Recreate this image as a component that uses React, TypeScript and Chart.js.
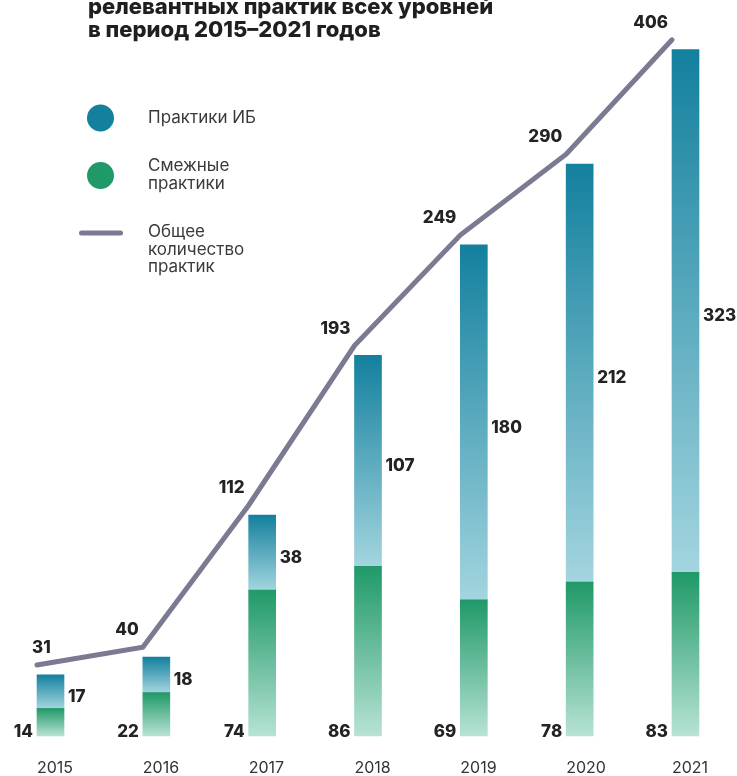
import React, { useEffect, useRef } from "react";
import { Chart, registerables, LinearScale } from "chart.js";

Chart.register(...registerables);

// ---- data ----
const years = ["2015", "2016", "2017", "2018", "2019", "2020", "2021"];
const ibPractices = [17, 18, 38, 107, 180, 212, 323];
const relatedPractices = [14, 22, 74, 86, 69, 78, 83];
const totalPractices = [31, 40, 112, 193, 249, 290, 406];

const titleLines = ["релевантных практик всех уровней", "в период 2015–2021 годов"];
const legendIb = ["Практики ИБ"];
const legendRelated = ["Смежные", "практики"];
const legendTotal = ["Общее", "количество", "практик"];

// ---- scale: linear, values above the knee drawn compressed (as in the original) ----
const KNEE = 290;
const SQUASH = 0.5;
const squash = (v: number) => (v > KNEE ? KNEE + (v - KNEE) * SQUASH : v);
const unsquash = (v: number) => (v > KNEE ? KNEE + (v - KNEE) / SQUASH : v);

class SquashedScale extends LinearScale {
  static id = "squashed";
  static defaults = LinearScale.defaults;
  getPixelForValue(value: any) {
    if (value === null || value === undefined) return NaN;
    return super.getPixelForValue(squash(value));
  }
  getValueForPixel(pixel: number) {
    return unsquash(super.getValueForPixel(pixel) as number);
  }
}
Chart.register(SquashedScale as any);

const FONT = "Inter, 'Open Sans', sans-serif";
const BLUE_TOP = "#13809e";
const BLUE_BOTTOM = "#a3d5df";
const GREEN_TOP = "#209968";
const GREEN_BOTTOM = "#b7e3d4";
const LINE_COLOR = "#7a7a93";

function segmentGradient(ctx: any, top: string, bottom: string, from: number[], to: number[]) {
  const chart = ctx.chart;
  const y = chart.scales.y;
  if (!chart.chartArea || !y) return top;
  const i = ctx.dataIndex;
  const yTop = y.getPixelForValue(to[i]);
  const yBot = y.getPixelForValue(from[i]);
  if (!isFinite(yTop) || !isFinite(yBot) || yTop === yBot) return top;
  const g = chart.ctx.createLinearGradient(0, yTop, 0, yBot);
  g.addColorStop(0, top);
  g.addColorStop(1, bottom);
  return g;
}

const decorPlugin = {
  id: "decor",
  afterDraw(chart: any) {
    const ctx = chart.ctx;
    ctx.save();
    // title (cut at top as in the reference)
    ctx.fillStyle = "#1f1f1f";
    ctx.font = `800 22px ${FONT}`;
    ctx.textAlign = "left";
    ctx.textBaseline = "alphabetic";
    ctx.fillText(titleLines[0], 88, 14);
    ctx.fillText(titleLines[1], 88, 37);

    // legend
    ctx.fillStyle = BLUE_TOP;
    ctx.beginPath();
    ctx.arc(100.5, 118, 13.5, 0, Math.PI * 2);
    ctx.fill();
    ctx.fillStyle = GREEN_TOP;
    ctx.beginPath();
    ctx.arc(100.5, 175.5, 13.5, 0, Math.PI * 2);
    ctx.fill();
    ctx.strokeStyle = LINE_COLOR;
    ctx.lineWidth = 5;
    ctx.lineCap = "round";
    ctx.beginPath();
    ctx.moveTo(81.5, 233);
    ctx.lineTo(120.5, 233);
    ctx.stroke();

    ctx.fillStyle = "#3a3a3a";
    ctx.font = `400 17px ${FONT}`;
    ctx.textBaseline = "middle";
    legendIb.forEach((t, k) => ctx.fillText(t, 148, 118 + k * 18));
    legendRelated.forEach((t, k) => ctx.fillText(t, 148, 166 + k * 18));
    legendTotal.forEach((t, k) => ctx.fillText(t, 148, 232 + k * 17.5));

    // value labels
    const green = chart.getDatasetMeta(1);
    const blue = chart.getDatasetMeta(2);
    const line = chart.getDatasetMeta(3);
    ctx.fillStyle = "#232323";
    ctx.font = `800 17px ${FONT}`;
    years.forEach((_, i) => {
      const gb = green.data[i];
      const bb = blue.data[i];
      const lp = line.data[i];
      const left = gb.x - gb.width / 2;
      const right = bb.x + bb.width / 2;
      // related (green) – left of bar, at its foot
      ctx.textAlign = "right";
      ctx.textBaseline = "alphabetic";
      ctx.fillText(String(relatedPractices[i]), left - 4, gb.base + 0.5);
      // IB (blue) – right of bar, at middle of its segment
      ctx.textAlign = "left";
      ctx.textBaseline = "middle";
      ctx.fillText(String(ibPractices[i]), right + 4, (bb.y + bb.base) / 2 + 5);
      // total – above line point
      ctx.textBaseline = "alphabetic";
      if (i === 0) {
        ctx.textAlign = "left";
        ctx.fillText(String(totalPractices[i]), lp.x - 5, lp.y - 12);
      } else {
        ctx.textAlign = "right";
        ctx.fillText(String(totalPractices[i]), lp.x - 4, lp.y - 12);
      }
    });
    ctx.restore();
  },
};

export default function App() {
  const ref = useRef<HTMLCanvasElement | null>(null);
  useEffect(() => {
    if (!ref.current) return;
    const blueFrom = relatedPractices;
    const blueTo = relatedPractices.map((g, i) => g + ibPractices[i]);
    const greenFrom = relatedPractices.map(() => 0);
    const chart = new Chart(ref.current, {
      type: "bar",
      data: {
        labels: years,
        datasets: [
          {
            // empty slot so that each bar sits to the right of its year tick
            label: "",
            data: years.map(() => null),
            stack: "pad",
            barThickness: 27,
          } as any,
          {
            label: "Смежные практики",
            data: relatedPractices,
            stack: "main",
            barThickness: 27,
            borderWidth: 0,
            clip: false,
            backgroundColor: (c: any) => segmentGradient(c, GREEN_TOP, GREEN_BOTTOM, greenFrom, relatedPractices),
          } as any,
          {
            label: "Практики ИБ",
            data: ibPractices,
            stack: "main",
            barThickness: 27,
            borderWidth: 0,
            clip: false,
            backgroundColor: (c: any) => segmentGradient(c, BLUE_TOP, BLUE_BOTTOM, blueFrom, blueTo),
          } as any,
          {
            type: "line",
            label: "Общее количество практик",
            data: totalPractices,
            yAxisID: "yLine",
            borderColor: LINE_COLOR,
            borderWidth: 5,
            borderCapStyle: "round",
            borderJoinStyle: "miter",
            pointRadius: 0,
            tension: 0,
            order: -1,
            clip: false,
          } as any,
        ],
      },
      options: {
        responsive: false,
        animation: false,
        devicePixelRatio: 1,
        layout: { padding: { left: 37, right: 65, top: 26, bottom: -24 } },
        plugins: {
          legend: { display: false },
          title: { display: false },
          tooltip: { enabled: false },
        },
        scales: {
          x: {
            type: "category",
            offset: false,
            grid: { display: false, drawTicks: false },
            border: { display: false },
            ticks: {
              align: "start",
              padding: 24,
              color: "#333333",
              font: { family: FONT, size: 16, lineHeight: 1 },
              maxRotation: 0,
              autoSkip: false,
            },
          },
          y: {
            type: "squashed" as any,
            stacked: true,
            min: 0,
            max: 360,
            display: false,
          },
          yLine: {
            type: "squashed" as any,
            min: -5,
            max: 355,
            display: false,
          },
        } as any,
      },
      plugins: [decorPlugin],
    });
    return () => chart.destroy();
  }, []);
  return (
    <div style={{ position: "fixed", left: 0, top: 0, width: 737, height: 776, background: "#ffffff" }}>
      <canvas ref={ref} width={737} height={776} style={{ display: "block" }} />
    </div>
  );
}
